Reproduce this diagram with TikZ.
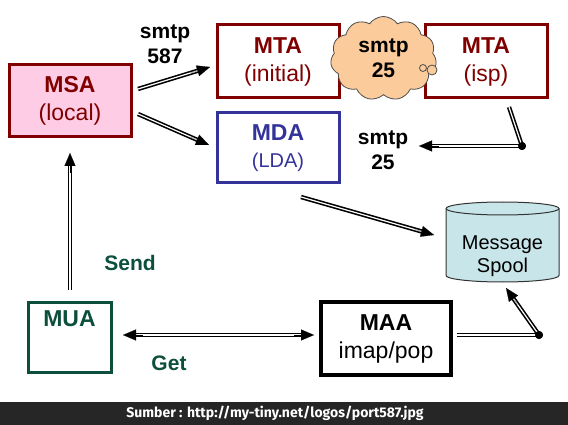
\documentclass[tikz,border=0pt]{standalone}
\usepackage{fontspec}
\setmainfont{Liberation Sans}
\newfontfamily\footfont{Fira Sans}
\usetikzlibrary{arrows.meta,shapes.geometric,shapes.symbols,calc}
\definecolor{dred}{HTML}{800000}
\definecolor{pinkf}{HTML}{FFCCE5}
\definecolor{dblue}{HTML}{333399}
\definecolor{dgreen}{HTML}{0B4F3C}
\definecolor{peach}{HTML}{FBCB9B}
\definecolor{spoolf}{HTML}{C8E6EA}
\definecolor{footbg}{HTML}{262626}
\newcommand{\dblarr}[2]{%
  \draw[dbl, shorten >=12.5pt] (#1) -- (#2);
  \draw[line width=0.1pt, tipx] ($(#2)!20pt!(#1)$) -- (#2);}
\begin{document}
\begin{tikzpicture}[x=1pt,y=-1pt,
  box/.style={draw, line width=3pt, minimum width=122pt, minimum height=72pt, align=center, inner sep=0pt},
  tfont/.style={font=\fontsize{23}{28}\selectfont},
  lbl/.style={font=\fontsize{21}{25}\selectfont\bfseries, align=center, inner sep=0pt},
  dbl/.style={double=white, double distance=1.2pt, line width=1.6pt, draw=black},
  tipx/.style={-{Triangle[length=13pt,width=11pt]}},
  jdot/.style={circle, fill=black, inner sep=0pt, minimum size=8pt},
  cyl/.style={draw=black!80, line width=1pt}]
\useasboundingbox (0,0) rectangle (568,425);
\fill[footbg] (0,402) rectangle (568,425);
\node[text=white, font=\footfont\fontsize{14}{16}\selectfont\bfseries] (foot) at (275,413) {Sumber : http://my-tiny.net/logos/port587.jpg};

% boxes
\node[box, draw=dred, fill=pinkf, text=dred, tfont] (msa) at (70,101) {\textbf{MSA}\\(local)};
\node[box, draw=dred, text=dred, tfont, minimum height=73pt] (mtai) at (278,61.5) {\textbf{MTA}\\(initial)};
\node[box, draw=dred, text=dred, tfont, minimum height=73pt] (mtaisp) at (486,61.5) {\textbf{MTA}\\(isp)};
\node[box, draw=dblue, text=dblue, minimum height=70pt, font=\fontsize{20}{27}\selectfont] (mda) at (278,148) {\fontsize{23}{27}\selectfont\textbf{MDA}\\(LDA)};
\node[cloud, cloud puffs=11, cloud puff arc=110, aspect=1.3, draw=black!70, line width=0.8pt, fill=peach, minimum width=106pt, minimum height=84pt, lbl, inner sep=0pt] (cloud) at (383.5,58.5) {smtp\\25};
\draw[black!70, line width=0.8pt, fill=peach] (432,70) circle (5);
\draw[black!70, line width=0.8pt] (423,68) circle (3.5);

% message spool cylinder
\filldraw[cyl, fill=spoolf] (446,208.5) -- (446,275.5)
  arc[start angle=180, end angle=0, x radius=56.5, y radius=6.5]
  -- (559,208.5)
  arc[start angle=0, end angle=-180, x radius=56.5, y radius=6.5] -- cycle;
\draw[cyl] (446,208.5) arc[start angle=180, end angle=0, x radius=56.5, y radius=6.5];
\node[align=center, inner sep=0pt, font=\fontsize{20}{23}\selectfont] (spool) at (502.5,256) {Message\\Spool};

\node[box, draw=black, line width=3.5pt, minimum width=130pt, minimum height=73pt, tfont] (maa) at (386,338.5) {\textbf{MAA}\\imap/pop};
\node[box, draw=dgreen, text=dgreen, minimum width=83pt, minimum height=70pt, font=\fontsize{23}{28}\selectfont\bfseries] (mua) at (69.5,337) {MUA\\\strut};

% labels
\node[lbl] (l587) at (165,44) {smtp\\587};
\node[lbl] (l25) at (383,150) {smtp\\25};
\node[lbl, text=dgreen] (lsend) at (130,263) {Send};
\node[lbl, text=dgreen] (lget) at (169,363) {Get};

% connector points
\coordinate (a1s) at (138,89);  \coordinate (a1e) at (210,67);
\coordinate (a2s) at (138,114); \coordinate (a2e) at (209,145);
\coordinate (a3s) at (509,107);
\node[jdot] (d1) at (522,146) {};
\coordinate (a3e) at (419,146);
\coordinate (a4s) at (301,197); \coordinate (a4e) at (434,235);
\coordinate (a5s) at (457,335);
\node[jdot] (d2) at (539,335) {};
\coordinate (a5e) at (506,288);
\coordinate (a6s) at (70,290); \coordinate (a6e) at (70,153);
\coordinate (a7s) at (123,335); \coordinate (a7e) at (314,335);

\dblarr{a1s}{a1e}
\dblarr{a2s}{a2e}
\draw[dbl] (a3s) -- (d1.center);
\dblarr{d1.center}{a3e}
\dblarr{a4s}{a4e}
\draw[dbl] (a5s) -- (d2.center);
\dblarr{d2.center}{a5e}
\dblarr{a6s}{a6e}
\draw[dbl, shorten >=12.5pt, shorten <=12.5pt] (a7s) -- (a7e);
\draw[line width=0.1pt, tipx] ($(a7e)!20pt!(a7s)$) -- (a7e);
\draw[line width=0.1pt, tipx] ($(a7s)!20pt!(a7e)$) -- (a7s);
\node[jdot] (d1top) at (d1) {};
\node[jdot] (d2top) at (d2) {};
\end{tikzpicture}
\end{document}
